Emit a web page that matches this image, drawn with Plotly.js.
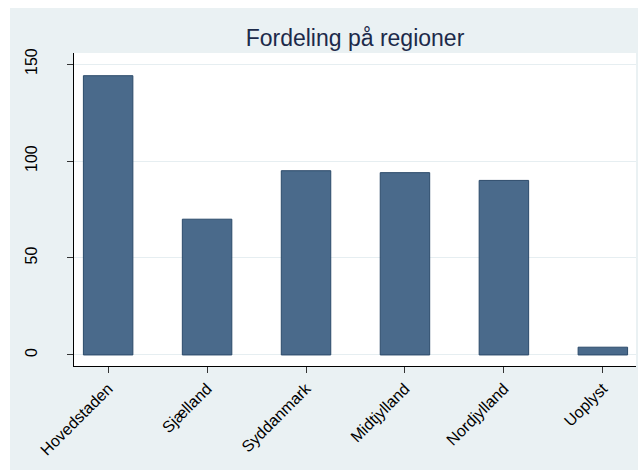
<!DOCTYPE html>
<html>
<head>
<meta charset="utf-8">
<script src="https://cdn.plot.ly/plotly-3.0.1.min.js"></script>
<style>html,body{margin:0;padding:0;background:#fff;}#chart{width:639px;height:470px;}</style>
</head>
<body>
<div id="chart"></div>
<script>
const categories = ["Hovedstaden", "Sjælland", "Syddanmark", "Midtjylland", "Nordjylland", "Uoplyst"];
const values = [144, 70, 95, 94, 90, 4];
const yTicks = [0, 50, 100, 150];
const chartTitle = "Fordeling på regioner";
const topCaption = "Figur 3. Fordeling";

const W = 639, H = 470;
const mL = 74, mR = 3, mT = 53, mB = 104;
const pw = W - mL - mR, ph = H - mT - mB;
const px = x => (x - mL) / pw;
const py = y => (H - mB - y) / ph;

const font = "Liberation Sans, Arial, sans-serif";

const trace = {
  type: "bar",
  x: categories,
  y: values,
  marker: {color: "#4a6a8b", line: {color: "#2b4a6a", width: 1}},
  hoverinfo: "x+y"
};

const layout = {
  width: W, height: H,
  margin: {l: mL, r: mR, t: mT, b: mB, pad: 0},
  paper_bgcolor: "#eaf1f3",
  plot_bgcolor: "#ffffff",
  bargap: 0.5,
  showlegend: false,
  font: {family: font, size: 16, color: "#000"},
  title: {
    text: chartTitle,
    font: {family: font, size: 23, color: "#1c2a4a"},
    x: 0.5, xref: "paper", xanchor: "center",
    y: 1 - 38 / H, yref: "container", yanchor: "middle"
  },
  xaxis: {
    type: "category",
    range: [-0.345, 5.335],
    showline: true, linecolor: "#000", linewidth: 1,
    ticks: "outside", ticklen: 6, tickcolor: "#333", tickwidth: 1,
    tickangle: -45,
    tickfont: {family: font, size: 16, color: "#000"},
    showgrid: false, zeroline: false, fixedrange: true
  },
  yaxis: {
    range: [-5.7, 155.7],
    tickvals: yTicks,
    ticktext: yTicks.map(String),
    showline: true, linecolor: "#000", linewidth: 1,
    ticks: "outside", ticklen: 6, tickcolor: "#333", tickwidth: 1,
    tickangle: -90,
    ticklabelstandoff: 24,
    tickfont: {family: font, size: 16, color: "#000"},
    showgrid: true, gridcolor: "#e6eef1", gridwidth: 1,
    zeroline: false, fixedrange: true
  },
  shapes: [
    {type: "rect", xref: "paper", yref: "paper", x0: px(0), x1: px(W), y0: py(8), y1: py(0), fillcolor: "#ffffff", line: {width: 0}, layer: "above"},
    {type: "rect", xref: "paper", yref: "paper", x0: px(0), x1: px(10), y0: py(H), y1: py(0), fillcolor: "#ffffff", line: {width: 0}, layer: "above"},
    {type: "rect", xref: "paper", yref: "paper", x0: px(638), x1: px(W), y0: py(H), y1: py(0), fillcolor: "#ffffff", line: {width: 0}, layer: "above"}
  ],
  annotations: [
    {text: "<b>" + topCaption + "</b>", xref: "paper", yref: "paper",
     x: px(16), y: py(2.5), xanchor: "left", yanchor: "bottom",
     showarrow: false, font: {family: font, size: 24, color: "#000"}}
  ]
};

Plotly.newPlot("chart", [trace], layout, {displayModeBar: false, staticPlot: true});
</script>
</body>
</html>
